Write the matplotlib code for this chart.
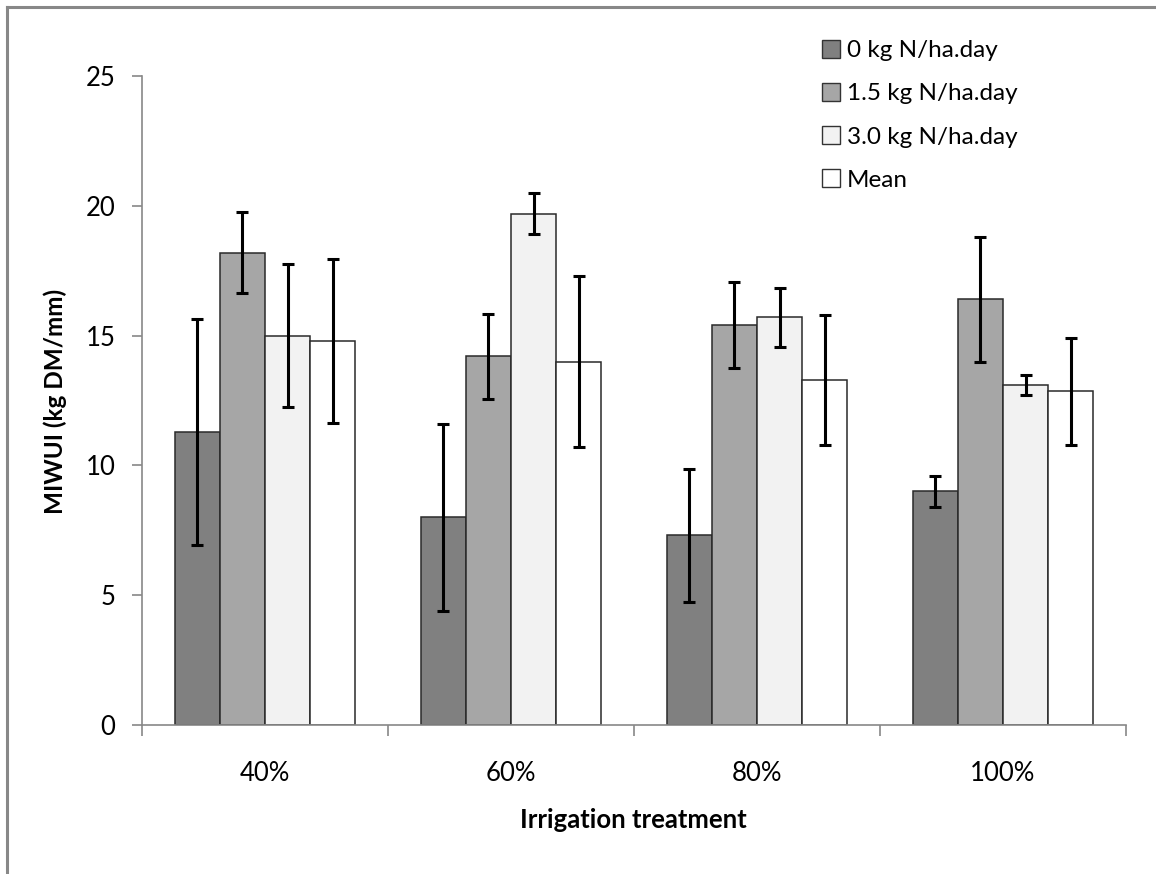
import matplotlib
matplotlib.use("Agg")
import matplotlib.pyplot as plt
import numpy as np
from matplotlib.patches import Patch
from matplotlib.lines import Line2D

plt.rcParams['font.family'] = ['Lato', 'DejaVu Sans']

categories = ["40%", "60%", "80%", "100%"]
series_names = ["0 kg N/ha.day", "1.5 kg N/ha.day", "3.0 kg N/ha.day", "Mean"]
vals_0 = [11.3, 8.0, 7.3, 9.0]
vals_15 = [18.2, 14.2, 15.4, 16.4]
vals_30 = [15.0, 19.7, 15.7, 13.1]
vals_mean = [14.8, 14.0, 13.3, 12.85]
err_0 = [4.35, 3.6, 2.55, 0.6]
err_15 = [1.55, 1.65, 1.65, 2.4]
err_30 = [2.75, 0.8, 1.15, 0.4]
err_mean = [3.15, 3.3, 2.5, 2.05]
yticks = [0, 5, 10, 15, 20, 25]

values = [vals_0, vals_15, vals_30, vals_mean]
errors = [err_0, err_15, err_30, err_mean]
colors = ["#808080", "#a6a6a6", "#f2f2f2", "#ffffff"]

fig = plt.figure(figsize=(11.56, 8.74), dpi=100)
ax = fig.add_axes([142/1156, 1-725/874, (1126-142)/1156, (725-76)/874])

x = np.arange(len(categories))
w = 0.183
for i, (v, e, c) in enumerate(zip(values, errors, colors)):
    pos = x + (i - 1.5) * w
    ax.bar(pos, v, width=w, color=c, edgecolor="#2a2a2a", linewidth=1.1, zorder=2)
    ax.errorbar(pos, v, yerr=e, fmt='none', ecolor='black', elinewidth=2.2,
                capsize=4.5, capthick=2.2, zorder=3)

ax.set_xlim(-0.5, len(categories) - 0.5)
ax.set_ylim(0, 25)
ax.set_yticks(yticks)
ax.set_yticklabels([str(t) for t in yticks])
ax.set_xticks(x)
ax.set_xticklabels(categories)
ax.tick_params(axis='x', length=0, pad=26, labelsize=18.5, colors='black')
ax.set_xticks(np.arange(-0.5, len(categories), 1.0), minor=True)
ax.tick_params(axis='x', which='minor', length=8, width=1.2, color='#888888', direction='out')
ax.tick_params(axis='y', length=7, width=1.2, color='#888888', direction='out', pad=12, labelsize=18.5)
for s in ['top', 'right']:
    ax.spines[s].set_visible(False)
for s in ['left', 'bottom']:
    ax.spines[s].set_color('#888888')
    ax.spines[s].set_linewidth(1.2)

fig.text(55/1156, 1-401/874, "MIWUI (kg DM/mm)", rotation=90, ha='center', va='center',
         fontsize=17.5, fontweight='bold')
fig.text(633/1156, 1-820/874, "Irrigation treatment", ha='center', va='center',
         fontsize=18.5, fontweight='bold')

handles = [Patch(facecolor=c, edgecolor="#333333", linewidth=1.0) for c in colors]
leg = fig.legend(handles, series_names, loc='upper left', bbox_to_anchor=(812/1156, 1-30/874),
                 frameon=False, fontsize=17.5, handlelength=0.75, handleheight=0.75,
                 handletextpad=0.3, labelspacing=0.9, borderaxespad=0)

# outer chart border (left and top)
fig.add_artist(Line2D([7/1156, 7/1156], [0, 1-7/874], transform=fig.transFigure, color='#888888', linewidth=2.2))
fig.add_artist(Line2D([7/1156, 1], [1-7/874, 1-7/874], transform=fig.transFigure, color='#888888', linewidth=2.2))

fig.savefig("out.png", dpi=100)
